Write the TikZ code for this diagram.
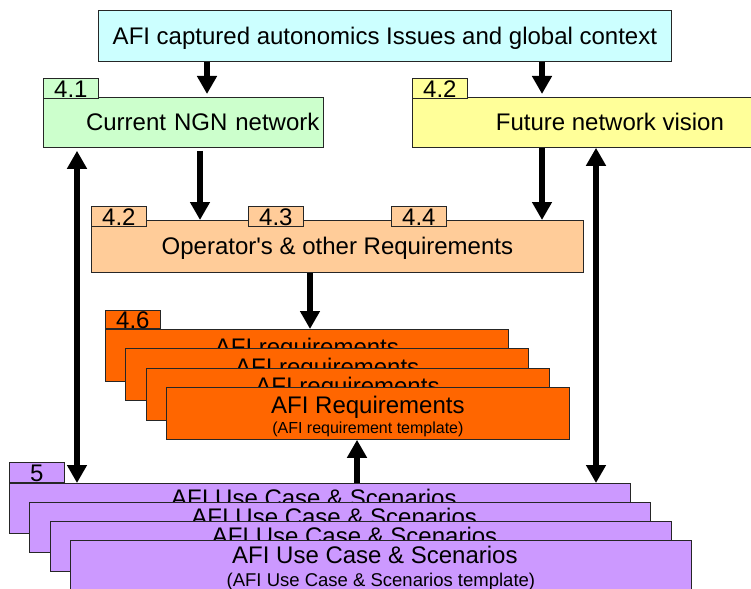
\documentclass[tikz,border=0pt]{standalone}
\usepackage{fontspec}
\setmainfont{Liberation Sans}
\usetikzlibrary{arrows.meta,positioning}

\definecolor{issuecol}{HTML}{CCFFFF}
\definecolor{ngncol}{HTML}{CCFFCC}
\definecolor{visioncol}{HTML}{FFFF99}
\definecolor{opercol}{HTML}{FFCC99}
\definecolor{reqcol}{HTML}{FF6600}
\definecolor{ucasecol}{HTML}{CC99FF}

\newcommand{\bigfont}{\fontsize{24}{26}\selectfont}
\newcommand{\smallfont}{\fontsize{16}{18}\selectfont}
\newcommand{\midfont}{\fontsize{18.5}{20}\selectfont}

\begin{document}
\begin{tikzpicture}[x=1pt,y=-1pt,
	box/.style={draw=black!85,line width=0.8pt,rectangle,inner sep=0pt,anchor=north west,font=\bigfont,align=center},
	oneline/.style={text height=17pt,text depth=0pt},
	tab/.style={draw=black!85,line width=0.8pt,rectangle,inner sep=0pt,minimum width=55pt,minimum height=20pt,text height=18pt,text depth=0pt,font=\bigfont},
	bigarrow/.style={line width=5.5pt,-{Triangle[width=19pt,length=18pt]}},
	dblarrow/.style={line width=5.5pt,{Triangle[width=19pt,length=18pt]}-{Triangle[width=19pt,length=18pt]}}]
	\useasboundingbox (0,0) rectangle (751,588);

	\node[box,oneline,fill=issuecol,minimum width=573pt,minimum height=51pt] (issues) at (98,10) {AFI captured autonomics Issues and global context};

	\node[box,oneline,fill=ngncol,minimum width=280pt,minimum height=50pt,text width=272pt,align=right] (ngn) at (43,97) {Current NGN network};
	\node[tab,fill=ngncol,above right=-2pt and 0pt of ngn.north west] (tabngn) {4.1};
	\node[box,oneline,fill=visioncol,minimum width=395pt,minimum height=50pt] (vision) at (412,97) {Future network vision};
	\node[tab,fill=visioncol,above right=-2pt and 0pt of vision.north west] (tabvision) {4.2};

	\node[box,oneline,fill=opercol,minimum width=492pt,minimum height=52pt] (oper) at (91,220) {Operator\textquotesingle s \& other Requirements};
	\node[tab,fill=opercol,above right=-7pt and 0pt of oper.north west] (taboperA) {4.2};
	\node[tab,fill=opercol,above right=-7pt and 157pt of oper.north west] (taboperB) {4.3};
	\node[tab,fill=opercol,above right=-7pt and 300pt of oper.north west] (taboperC) {4.4};

	% stack of requirements
	\foreach \i in {0,1,2}
		\node[box,fill=reqcol,minimum width=403pt,minimum height=52pt] (req\i) at ({105+20.3*\i},{329+19.3*\i}) {\rule{0pt}{24pt}AFI requirements\\[-6pt]{\smallfont (AFI requirement template)}};
	\node[box,fill=reqcol,minimum width=403pt,minimum height=52pt] (req) at (166,387) {\rule{0pt}{24pt}AFI Requirements\\[-6pt]{\smallfont (AFI requirement template)}};
	\node[tab,fill=reqcol,minimum height=18pt,text height=17pt,above right=0pt and 0pt of req0.north west] (tabreq) {4.6};

	% stack of use cases
	\foreach \i in {0,1,2}
		\node[box,fill=ucasecol,minimum width=621pt,minimum height=50pt] (ucase\i) at ({9+20.3*\i},{483+19*\i}) {\hspace*{-12pt}\rule{0pt}{23pt}AFI Use Case \& Scenarios\\[-3pt]{\midfont (AFI Use Case \& Scenarios template)}};
	\node[box,fill=ucasecol,minimum width=621pt,minimum height=50pt] (ucase) at (70,540) {\hspace*{-12pt}\rule{0pt}{23pt}AFI Use Case \& Scenarios\\[-3pt]{\midfont (AFI Use Case \& Scenarios template)}};
	\node[tab,fill=ucasecol,above right=0pt and 0pt of ucase0.north west] (tabucase) {5};

	\coordinate (c1) at (207,0);
	\coordinate (c2) at (542,0);
	\coordinate (c3) at (200,0);
	\coordinate (c4) at (310,0);
	\coordinate (c5) at (77,0);
	\coordinate (c6) at (596,0);
	\coordinate (c7) at (357,0);

	\draw[bigarrow,shorten >=3pt] (issues.south -| c1) -- (ngn.north -| c1);
	\draw[bigarrow,shorten >=3pt] (issues.south -| c2) -- (vision.north -| c2);
	\draw[bigarrow,shorten <=3pt] (ngn.south -| c3) -- (oper.north -| c3);
	\draw[bigarrow] (vision.south -| c2) -- (oper.north -| c2);
	\draw[bigarrow] (oper.south -| c4) -- (req0.north -| c4);
	\draw[dblarrow,shorten <=3pt] (ngn.south -| c5) -- (ucase0.north -| c5);
	\draw[dblarrow] (vision.south -| c6) -- (ucase0.north -| c6);
	\draw[bigarrow] (ucase0.north -| c7) -- (req.south -| c7);
\end{tikzpicture}
\end{document}
